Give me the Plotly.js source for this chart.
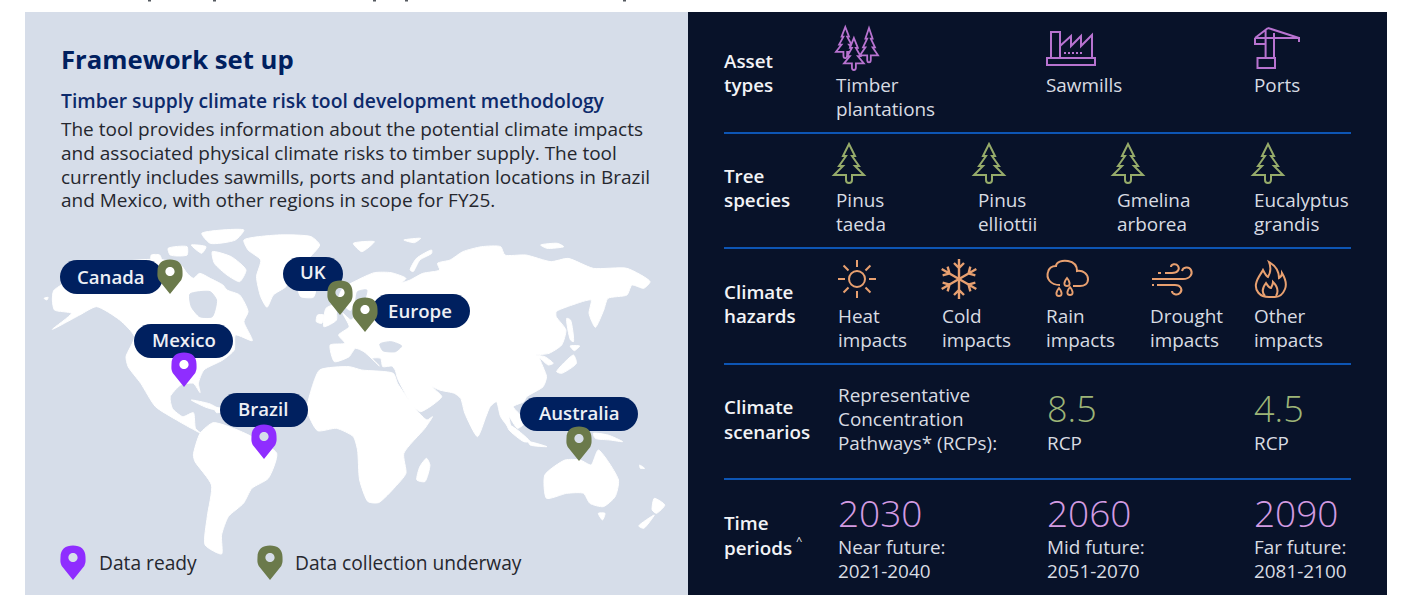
<!DOCTYPE html>
<html><head><meta charset="utf-8">
<script src="https://cdn.plot.ly/plotly-3.0.1.min.js"></script>
<style>html,body{margin:0;padding:0;background:#fff}#c{width:1404px;height:595px}</style>
</head><body><div id="c"></div>
<script>
// ---------- content ----------
var pinNames  = ['Canada','UK','Europe','Mexico','Brazil','Australia'];
var pinStatus = ['collect','collect','collect','ready','ready','collect'];
var pinTipX   = [170,340,365,184,264,579];
var pinTipY   = [294,315,332,387,459,461];
var pillX0    = [60,283,372,134,220,520];
var pillX1    = [163,343,470,233,308,638];
var pillY0    = [260,257,294,324,393,397];
var pillTextX = [111,313,420,184,263,579];
var pillTextY = [277,272,311,340,409,413];
var legendLabels = ['Data ready','Data collection underway'];
var legendStatus = ['ready','collect'];
var rowLabels = [['Asset','types'],['Tree','species'],['Climate','hazards'],['Climate','scenarios'],['Time','periods']];
var assetTypes = [['Timber','plantations'],['Sawmills'],['Ports']];
var treeSpecies = [['Pinus','taeda'],['Pinus','elliottii'],['Gmelina','arborea'],['Eucalyptus','grandis']];
var hazards = [['Heat','impacts'],['Cold','impacts'],['Rain','impacts'],['Drought','impacts'],['Other','impacts']];
var scenarioText = ['Representative','Concentration','Pathways* (RCPs):'];
var scenarioValues = ['8.5','4.5'];
var years = ['2030','2060','2090'];
var yearNames = ['Near future:','Mid future:','Far future:'];
var yearRanges = ['2021-2040','2051-2070','2081-2100'];
var bodyLines = ['The tool provides information about the potential climate impacts',
 'and associated physical climate risks to timber supply. The tool',
 'currently includes sawmills, ports and plantation locations in Brazil',
 'and Mexico, with other regions in scope for FY25.'];

// map outlines, in map units
var northAmerica=[[68,212],[100,185],[160,150],[230,125],[320,118],[370,135],[385,160],[400,175],[415,160],[440,175],[470,195],[480,210],[510,225],[530,275],[520,305],[540,362],[500,345],[497,390],[470,420],[425,450],[412,490],[416,518],[400,490],[370,495],[345,530],[350,565],[375,590],[400,578],[405,625],[418,640],[395,625],[360,600],[310,560],[275,490],[245,440],[240,410],[260,350],[225,300],[170,260],[130,285],[65,328],[110,280],[70,270],[65,240]];
var greenland=[[520,60],[600,45],[680,50],[700,75],[670,120],[640,160],[620,200],[590,225],[575,262],[560,230],[550,170],[560,120],[530,90]];
var southAmerica=[[400,705],[416,640],[447,608],[495,625],[539,650],[598,700],[578,775],[539,805],[519,850],[483,890],[467,945],[467,1002],[428,975],[433,890],[443,795],[404,725]];
var africa=[[700,450],[770,440],[800,450],[875,460],[885,490],[930,570],[955,600],[968,590],[950,625],[900,700],[905,760],[880,800],[840,848],[815,845],[795,780],[790,690],[780,650],[740,625],[695,632],[670,570],[680,510]];
var eurasia=[[745,235],[755,205],[790,180],[830,158],[870,158],[905,175],[895,188],[915,180],[945,160],[985,150],[980,130],[1010,120],[1040,95],[1085,80],[1130,80],[1140,105],[1190,105],[1250,125],[1290,115],[1350,145],[1430,145],[1485,185],[1470,205],[1442,195],[1430,225],[1385,235],[1375,270],[1355,322],[1340,280],[1345,240],[1300,255],[1262,275],[1262,290],[1285,330],[1275,375],[1245,400],[1215,405],[1235,410],[1255,430],[1243,435],[1223,415],[1239,470],[1231,500],[1192,530],[1185,545],[1160,560],[1190,605],[1170,625],[1150,590],[1155,630],[1130,590],[1120,545],[1105,560],[1095,590],[1075,650],[1045,580],[1035,535],[1020,520],[985,510],[955,490],[945,470],[975,510],[990,530],[940,575],[920,555],[885,475],[880,452],[872,438],[850,440],[845,415],[825,415],[842,438],[805,395],[785,385],[770,410],[735,425],[725,375],[760,370],[745,345],[770,320],[755,280],[775,300],[790,270],[770,270]];
var australia=[[1235,765],[1283,720],[1319,720],[1345,735],[1362,690],[1410,780],[1402,830],[1374,860],[1342,850],[1327,820],[1287,820],[1239,835]];
var islands=[
 [[954,715],[962,735],[950,785],[931,780],[938,740]],
 [[1362,880],[1378,880],[1372,900]],
 [[1495,835],[1520,855],[1500,880],[1490,870]],
 [[1495,885],[1470,925],[1458,918]],
 [[1144,610],[1170,630],[1200,665],[1185,665],[1150,630]],
 [[1196,665],[1240,680],[1200,675]],
 [[1350,640],[1385,645],[1420,665],[1390,660],[1355,655]],
 [[1263,455],[1303,405],[1310,430],[1275,460]],
 [[1295,378],[1318,378],[1305,392]],
 [[1287,295],[1296,300],[1303,365],[1296,360]],
 [[420,40],[520,30],[500,60],[440,70]],
 [[445,95],[490,110],[525,150],[510,185],[480,165],[450,130]],
 [[300,105],[320,105],[325,125],[300,125]],
 [[340,85],[385,80],[385,105],[345,105]],
 [[395,75],[430,80],[420,100]],
 [[715,265],[735,255],[740,300],[710,320]],
 [[695,285],[710,285],[705,310],[692,305]],
 [[650,212],[690,212],[685,232],[655,230]],
 [[915,150],[930,115],[966,90],[966,100],[938,120],[922,155]],
 [[780,70],[830,65],[800,95]],
 [[900,60],[940,55],[925,68]],
 [[1225,75],[1265,70],[1280,80],[1240,85]],
 [[395,540],[440,552],[470,575],[430,562]],
 [[450,562],[480,570],[455,578]],
 [[1460,735],[1472,745],[1462,745]],
 [[45,235],[55,232],[52,240]]
];
var waters=[
 [[392,222],[440,215],[455,240],[445,290],[415,290],[395,260]],
 [[843,372],[870,365],[895,378],[880,395],[850,392]],
 [[790,215],[812,210],[800,260],[775,278],[785,245]]
];
var headerSpecksX=[148,213,373,405,623];

// ---------- colours ----------
var PANEL_L='#d6dde9', PANEL_R='#081229', NAVY='#00205f', LINE='#0d55b4';
var PURPLE='#8f2dff', OLIVE='#6b7a4b', TXT='#25272e', TXT_R='#d9dce3', PINK='#b873d0', GREEN='#96ab6a', ORANGE='#e8a070', YEAR='#d39be2', NUM='#9db577';
var FONT='"Open Sans", "Noto Sans", sans-serif';

function mapTrace(polys,color){var xs=[],ys=[];polys.forEach(function(p){p.forEach(function(q){xs.push(q[0]);ys.push(q[1]);});xs.push(p[0][0]);ys.push(p[0][1]);xs.push(null);ys.push(null);});
 return {type:'scatter',mode:'lines',x:xs,y:ys,xaxis:'x2',yaxis:'y2',fill:'toself',fillcolor:color,line:{color:color,width:1,shape:'spline',smoothing:0.6},hoverinfo:'skip',showlegend:false};}
var traces=[mapTrace([northAmerica,greenland,southAmerica,africa,eurasia,australia].concat(islands),'#ffffff'),mapTrace(waters,PANEL_L)];

var shapes=[], ann=[];
function rect(x0,y0,x1,y1,c,layer){shapes.push({type:'rect',xref:'x',yref:'y',x0:x0,y0:y0,x1:x1,y1:y1,fillcolor:c,line:{width:0},layer:layer||'below'});}
function path(d,stroke,fill,w){shapes.push({type:'path',xref:'x',yref:'y',path:d,line:{color:stroke||'rgba(0,0,0,0)',width:stroke?(w||1.8):0},fillcolor:fill||'rgba(0,0,0,0)',layer:'above'});}
function txt(x,y,t,size,color,weight,anchor){ann.push({xref:'x',yref:'y',x:x,y:y-0.8,text:t,showarrow:false,xanchor:anchor||'left',yanchor:'middle',borderpad:0,borderwidth:0,align:'left',font:{family:FONT,size:size,color:color,weight:weight||400}});}

rect(25,12,688,595,PANEL_L);
rect(688,12,1387,595,PANEL_R);
headerSpecksX.forEach(function(x){rect(x,0,x+3,1.5,'#555a60');});

// ---------- pins ----------
function circ(cx,cy,r){var k=0.5523*r;return 'M'+(cx-r)+','+cy+'C'+(cx-r)+','+(cy-k)+' '+(cx-k)+','+(cy-r)+' '+cx+','+(cy-r)+'C'+(cx+k)+','+(cy-r)+' '+(cx+r)+','+(cy-k)+' '+(cx+r)+','+cy+'C'+(cx+r)+','+(cy+k)+' '+(cx+k)+','+(cy+r)+' '+cx+','+(cy+r)+'C'+(cx-k)+','+(cy+r)+' '+(cx-r)+','+(cy+k)+' '+(cx-r)+','+cy+'Z';}
function pin(x,y,status){var c=status==='ready'?PURPLE:OLIVE,cy=y-22,r=12.5;
 var d='M'+x+','+y+'L'+(x-r*0.9)+','+(cy+8)+'C'+(x-r*1.05)+','+(cy+4)+' '+(x-r)+','+(cy+2)+' '+(x-r)+','+(cy-1)+'C'+(x-r)+','+(cy-r*0.7)+' '+(x-r*0.6)+','+(cy-r)+' '+x+','+(cy-r)+'C'+(x+r*0.6)+','+(cy-r)+' '+(x+r)+','+(cy-r*0.7)+' '+(x+r)+','+(cy-1)+'C'+(x+r)+','+(cy+2)+' '+(x+r*1.05)+','+(cy+4)+' '+(x+r*0.9)+','+(cy+8)+'Z';
 shapes.push({type:'path',xref:'x',yref:'y',path:d+circ(x,cy-0.5,4.6),fillcolor:c,fillrule:'evenodd',line:{width:0},layer:'above'});}
pinNames.forEach(function(n,i){
 var x0=pillX0[i],x1=pillX1[i],y0=pillY0[i],y1=y0+34,r=17,k=r*0.45;
 path('M'+(x0+r)+','+y0+'L'+(x1-r)+','+y0+'C'+(x1-k)+','+y0+' '+x1+','+(y0+k)+' '+x1+','+(y0+r)+'C'+x1+','+(y1-k)+' '+(x1-k)+','+y1+' '+(x1-r)+','+y1+'L'+(x0+r)+','+y1+'C'+(x0+k)+','+y1+' '+x0+','+(y1-k)+' '+x0+','+(y0+r)+'C'+x0+','+(y0+k)+' '+(x0+k)+','+y0+' '+(x0+r)+','+y0+'Z',null,NAVY);
});
pinNames.forEach(function(n,i){pin(pinTipX[i],pinTipY[i],pinStatus[i]);});
pinNames.forEach(function(n,i){txt(pillTextX[i],pillTextY[i],n,18.6,'#eef0f5',600,'center');});
pin(73,580,legendStatus[0]);pin(270,580,legendStatus[1]);
txt(99,563,legendLabels[0],19.2,TXT);txt(295,563,legendLabels[1],19.2,TXT);

// ---------- left texts ----------
txt(61,60,'Framework set up',25.7,NAVY,700);
txt(61,101,'Timber supply climate risk tool development methodology',19.3,'#0d2a6b',600);
var bodyY=[130,154,178,201];
bodyLines.forEach(function(l,i){txt(61,bodyY[i],l,19,TXT);});

// ---------- right panel ----------
[133,248,364,479].forEach(function(y){shapes.push({type:'line',xref:'x',yref:'y',x0:724,x1:1351,y0:y,y1:y,line:{color:LINE,width:1.8},layer:'above'});});
var rowY=[[62,86],[177,201],[293,317],[408,433],[524,549]];
var S=18.9;
rowLabels.forEach(function(r,i){r.forEach(function(t,j){txt(724,rowY[i][j],t,18.8,'#f2f3f6',600);});});
txt(796,541,'^',11,'#f2f3f6',400);
function col(items,xs,ys){items.forEach(function(it,i){it.forEach(function(t,j){txt(xs[i],ys[j],t,S,TXT_R);});});}
col(assetTypes,[836,1046,1254],[86,110]);
col(treeSpecies,[836,978,1117,1254],[201,225]);
col(hazards,[838,942,1046,1150,1254],[317,341]);
scenarioText.forEach(function(t,i){txt(838,396+24*i,t,S,TXT_R);});
[1047,1254].forEach(function(x,i){txt(x,409,scenarioValues[i],36,NUM,300);txt(x,444,'RCP',S,TXT_R);});
[838,1047,1254].forEach(function(x,i){txt(x,513,years[i],37,YEAR,300);txt(x,548,yearNames[i],S,TXT_R);txt(x,572,yearRanges[i],S,TXT_R);});

// ---------- icons ----------
function tree(x,y,sx,sy,c,fill,w){var P=[[15,0],[21,12],[18,12],[25,22],[21,22],[30,31],[18,31],[18,36]];
 var f=function(p){return (x+p[0]*sx)+','+(y+p[1]*sy);};
 var L=[[12,36],[12,31],[0,31],[9,22],[5,22],[12,12],[9,12]];
 var d='M'+f(P[0]);P.slice(1).forEach(function(p){d+='L'+f(p);});
 d+='C'+f([18,40])+' '+f([12,40])+' '+f(L[0]);L.slice(1).forEach(function(p){d+='L'+f(p);});d+='Z';
 path(d,c,fill,w);}
[834,974,1113,1253].forEach(function(x){tree(x,144,1,1,GREEN,null,2);});
tree(836,27,0.62,0.8,PINK,PANEL_R,1.8);tree(860,28,0.6,0.88,PINK,PANEL_R,1.8);tree(844,38,0.66,0.82,PINK,PANEL_R,1.8);
// sawmill
path('M1047,58L1095,58L1095,65L1047,65ZM1051,58L1051,32L1060,32L1060,58M1060,46L1071,36L1071,46L1081,36L1081,46L1092,35L1092,58',PINK,null,2);
path('M1064,53L1066,53M1068,53L1070,53M1072,53L1074,53M1076,53L1078,53M1080,53L1082,53',PINK,null,1.8);
// crane
path('M1257.5,58L1275,58L1275,68L1257.5,68ZM1265.6,58L1265.6,30M1274,58L1274,33M1255,38L1299,38L1299,42M1255,38L1255,44L1265.6,44M1268,28L1255,38M1268,28L1299,38',PINK,null,2);
// sun
var SUN=[857,279];
path(circ(SUN[0],SUN[1],8),ORANGE,null,2);
for(var a=0;a<8;a++){var t=a*Math.PI/4;path('M'+(SUN[0]+12*Math.cos(t))+','+(SUN[1]+12*Math.sin(t))+'L'+(SUN[0]+19*Math.cos(t))+','+(SUN[1]+19*Math.sin(t)),ORANGE,null,2);}
// snowflake
var SNOW=[959,279];
for(var b=0;b<6;b++){var u=Math.PI/2+b*Math.PI/3,c=Math.cos(u),s=Math.sin(u);
 var ex=SNOW[0]+20*c,ey=SNOW[1]+20*s,mx=SNOW[0]+11*c,my=SNOW[1]+11*s,nx=-s,ny=c;
 path('M'+SNOW[0]+','+SNOW[1]+'L'+ex+','+ey+'M'+(mx+5*nx+5*c)+','+(my+5*ny+5*s)+'L'+mx+','+my+'L'+(mx-5*nx+5*c)+','+(my-5*ny+5*s),ORANGE,null,2.4);}
// rain cloud
path('M1060,285C1050,285 1046,278 1048,272C1049,268 1052,266 1056,266C1056,262 1062,260 1068,261C1074,262 1077,266 1077,271C1083,270 1088,274 1088,279C1088,284 1084,286 1080,286L1073,286',ORANGE,null,2);
[[1059,293],[1070,292],[1067,283]].forEach(function(p){var x=p[0],y=p[1];path('M'+x+','+(y-5)+'C'+(x+4)+','+(y)+' '+(x+3)+','+(y+3)+' '+x+','+(y+3)+'C'+(x-3)+','+(y+3)+' '+(x-4)+','+y+' '+x+','+(y-5)+'Z',ORANGE,null,1.8);});
// wind
path('M1152,279L1183,279C1190,279 1193,274 1191,270C1189,266 1183,267 1182,271M1165,273L1172,273C1178,273 1180,269 1178,266C1176,263 1171,264 1171,267M1158,273L1161,273M1157,285L1175,285C1181,285 1183,290 1180,293C1177,296 1172,294 1172,291M1152,285L1154,285',ORANGE,null,2);
// flame
path('M1269,297C1259,297 1255,290 1256,284C1257,278 1261,274 1263,270C1265,274 1266,276 1268,277C1271,272 1271,267 1269,262C1276,266 1279,272 1279,278C1281,277 1282,275 1282,273C1285,278 1287,284 1285,289C1283,294 1279,297 1275,297Z',ORANGE,null,2);
path('M1265,296C1261,292 1263,287 1266,283C1268,286 1269,288 1271,288C1272,286 1273,284 1273,282C1277,286 1279,291 1276,296',ORANGE,null,2);

var hidden={visible:false,fixedrange:true};
var layout={width:1404,height:595,margin:{l:0,r:0,t:0,b:0},paper_bgcolor:'#fff',plot_bgcolor:'rgba(0,0,0,0)',showlegend:false,
 xaxis:Object.assign({range:[0,1404],domain:[0,1],anchor:'y'},hidden),
 yaxis:Object.assign({range:[595,0],domain:[0,1],anchor:'x'},hidden),
 xaxis2:Object.assign({range:[0,1568],domain:[25/1404,685/1404],anchor:'y2'},hidden),
 yaxis2:Object.assign({range:[1125,0],domain:[0,375/595],anchor:'x2'},hidden),
 shapes:shapes,annotations:ann};
Plotly.newPlot('c',traces,layout,{displayModeBar:false,staticPlot:true});
</script>
</body></html>
